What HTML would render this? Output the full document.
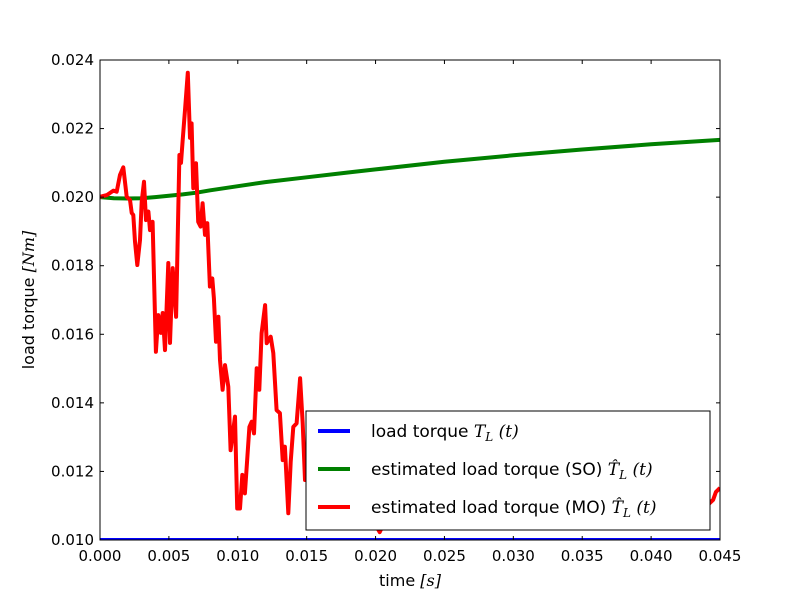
<!DOCTYPE html>
<html><head><meta charset="utf-8"><style>
body{margin:0;background:#fff}
svg{display:block;font-family:"DejaVu Sans","Liberation Sans",sans-serif}
.m{font-family:"DejaVu Serif","Liberation Serif",serif;font-style:italic}
</style></head><body>
<svg id="c" width="800" height="600" viewBox="0 0 800 600">
<rect width="800" height="600" fill="#fff"/>
<defs><clipPath id="pc"><rect x="100" y="60" width="620" height="480"/></clipPath></defs>
<g id="plot" clip-path="url(#pc)"></g>
<rect x="100" y="60" width="620" height="480" fill="none" stroke="#000" stroke-width="1"/>
<g id="ticks"></g>
<text x="410" y="586" font-size="16" text-anchor="middle">time <tspan class="m">[s]</tspan></text>
<text transform="translate(34,300) rotate(-90)" font-size="16" text-anchor="middle">load torque <tspan class="m">[Nm]</tspan></text>
<g>
<rect x="306" y="411" width="404" height="119" fill="#fff" stroke="#000" stroke-width="1"/>
<g><line x1="318" y1="431" x2="350" y2="431" stroke="#0000ff" stroke-width="4"/><text x="371" y="437" font-size="17">load torque <tspan class="m">T<tspan font-size="12" dy="4">L</tspan><tspan dy="-4"> (t)</tspan></tspan></text></g>
<g><line x1="318" y1="469" x2="350" y2="469" stroke="#008000" stroke-width="4"/><text x="371" y="475" font-size="17">estimated load torque (SO) <tspan class="m">T̂<tspan font-size="12" dy="4">L</tspan><tspan dy="-4"> (t)</tspan></tspan></text></g>
<g><line x1="318" y1="507" x2="350" y2="507" stroke="#ff0000" stroke-width="4"/><text x="371" y="513" font-size="17">estimated load torque (MO) <tspan class="m">T̂<tspan font-size="12" dy="4">L</tspan><tspan dy="-4"> (t)</tspan></tspan></text></g>
</g>
</svg>
<script>
const xTicks=[0,0.005,0.010,0.015,0.020,0.025,0.030,0.035,0.040,0.045];
const xTickLabels=["0.000","0.005","0.010","0.015","0.020","0.025","0.030","0.035","0.040","0.045"];
const yTicks=[0.010,0.012,0.014,0.016,0.018,0.020,0.022,0.024];
const yTickLabels=["0.010","0.012","0.014","0.016","0.018","0.020","0.022","0.024"];
const loadT=[0,0.045];
const loadV=[0.010,0.010];
const soT=[0,1,2,3,4,5,6,7,8,10,12,15,18,20,25,30,35,40,45];
const soV=[20.0,19.97,19.96,19.97,20.0,20.04,20.08,20.13,20.2,20.32,20.44,20.58,20.72,20.81,21.03,21.22,21.39,21.54,21.67];
const moT=[0,0.49,0.97,1.21,1.45,1.69,1.94,2.18,2.30,2.42,2.54,2.71,2.90,3.03,3.19,3.34,3.51,3.63,3.82,4.06,4.23,4.41,4.55,4.72,4.96,5.08,5.28,5.52,5.76,5.88,6.00,6.17,6.37,6.53,6.65,6.77,6.97,7.13,7.30,7.45,7.62,7.79,7.98,8.15,8.27,8.42,8.59,8.71,8.90,9.07,9.31,9.48,9.80,9.96,10.16,10.33,10.52,10.84,11.01,11.18,11.37,11.56,11.73,11.98,12.10,12.39,12.58,12.82,13.06,13.26,13.42,13.67,13.84,14.03,14.27,14.52,14.71,14.88,16.7,18.9,20.3,21.8,25.4,32.7,39.9,43.5,44.1,44.5,44.7,45];
const moV=[20.01,20.06,20.19,20.16,20.65,20.87,20.01,19.92,19.54,19.48,18.70,18.02,18.75,19.87,20.45,19.33,19.58,19.04,19.28,15.49,16.56,16.04,16.62,15.54,18.08,15.75,17.93,16.51,21.23,21.00,21.67,22.54,23.63,21.73,22.15,20.26,20.99,19.28,19.14,19.82,18.90,19.24,17.39,17.63,17.05,15.78,16.51,15.25,14.38,15.10,14.47,12.62,13.60,10.92,10.92,11.90,11.36,13.30,13.45,13.11,15.01,14.38,16.03,16.85,15.74,15.93,15.45,13.79,13.70,12.33,12.72,10.78,12.28,13.30,13.40,14.72,13.40,11.75,12.0,11.2,10.23,11.46,12.0,11.75,12.0,11.3,11.02,11.17,11.40,11.52];
const X=t=>100+t/0.045*620;
const Y=v=>540-(v-0.010)/0.014*480;
const NS="http://www.w3.org/2000/svg";
const plot=document.getElementById('plot'),ticks=document.getElementById('ticks');
function line(ts,vs,scaleT,scaleV,color,name){
  const p=document.createElementNS(NS,'polyline');
  p.setAttribute('points',ts.map((t,i)=>X(t*scaleT).toFixed(1)+','+Y(vs[i]*scaleV).toFixed(1)).join(' '));
  p.setAttribute('fill','none');p.setAttribute('stroke',color);p.setAttribute('stroke-width','4');p.setAttribute('stroke-linejoin','round');
  
  
  plot.appendChild(p);
}
line(soT,soV,0.001,0.001,'#008000','series-so');
line(moT,moV,0.001,0.001,'#ff0000','series-mo');
line(loadT,loadV,1,1,'#0000ff','series-load-torque');
xTicks.forEach((t,i)=>{
  const x=X(t);
  const g=document.createElementNS(NS,'g');
  
  
  g.innerHTML=`<line x1="${x}" y1="540" x2="${x}" y2="536" stroke="#000"/><line x1="${x}" y1="60" x2="${x}" y2="64" stroke="#000"/><text x="${x}" y="561" font-size="15" text-anchor="middle">${xTickLabels[i]}</text>`;
  ticks.appendChild(g);
});
yTicks.forEach((v,i)=>{
  const y=Y(v);
  const g=document.createElementNS(NS,'g');
  
  
  g.innerHTML=`<line x1="100" y1="${y}" x2="104" y2="${y}" stroke="#000"/><line x1="720" y1="${y}" x2="716" y2="${y}" stroke="#000"/><text x="94" y="${y+5}" font-size="15" text-anchor="end">${yTickLabels[i]}</text>`;
  ticks.appendChild(g);
});
</script>
</body></html>
